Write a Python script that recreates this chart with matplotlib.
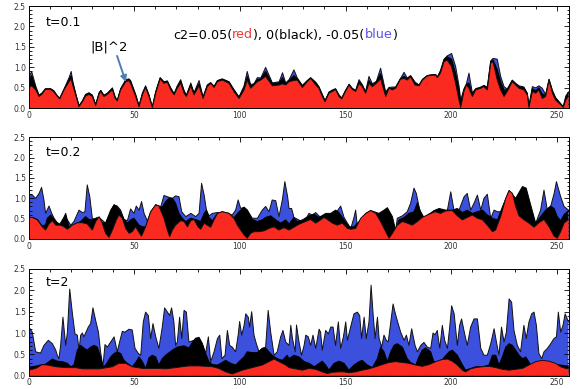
import matplotlib
matplotlib.use("Agg")
import matplotlib.pyplot as plt
from matplotlib.ticker import MultipleLocator

plt.rcParams['font.family'] = ['DejaVu Sans']

RED = "#fb2a20"
BLUE = "#3b50dc"

# ---------------- Panel 1 (t=0.1): shared x ----------------
p1_x = [0, 1.5, 3.4, 5, 6.5, 8, 10.5, 12, 13.6, 14.8, 16.8, 19.2, 20.2, 21, 22.3, 23.9, 25.5, 27, 28.6, 30.2,
        31.8, 33.4, 34.2, 35.7, 37.3, 39.7, 41, 42, 43.6, 46, 47.5, 48.3, 50.7, 52.3, 53.9, 55.4, 57, 58.6, 60.2, 62.3,
        64.1, 65.7, 67.3, 68.9, 70.4, 72, 73.6, 74.7, 76.8, 78.3, 80.7, 82.6, 84.6, 86.2, 87.8, 89.4, 91.7, 94.9, 97.2, 99.6,
        102, 103.5, 105.1, 106.7, 108.3, 109.9, 112.2, 115.4, 118.6, 120.2, 121.7, 123.3, 125.6, 127.2, 129.6, 131.9, 133.5, 135.9, 137.4, 139,
        140.3, 142.2, 143.8, 145.3, 146.9, 148.2, 150, 151.7, 153.2, 154.8, 156.4, 157.9, 159.5, 161.1, 162.7, 164.6, 166.6, 169, 170.6, 172.2,
        173.7, 176, 177.7, 179.2, 180.8, 182.9, 184.8, 186.4, 188.7, 191, 192.7, 193.4, 194.9, 196.6, 198.1, 200.2, 202.1, 203.7, 204.5, 206,
        207.2, 208.4, 210, 211.6, 214, 215.5, 217.1, 218.7, 219.8, 221.8, 223.4, 225, 226.5, 228.9, 230.5, 232.1, 234.4, 236, 236.8, 238.4,
        240, 241.5, 243.1, 244.7, 246.3, 247.9, 249.4, 252, 253, 254.2, 255.5]
p1_red = [0.50, 0.55, 0.45, 0.29, 0.35, 0.46, 0.46, 0.40, 0.29, 0.23, 0.45, 0.65, 0.72, 0.55, 0.33, 0.04, 0.16, 0.30, 0.34, 0.29,
          0.07, 0.35, 0.41, 0.29, 0.34, 0.45, 0.24, 0.18, 0.45, 0.65, 0.68, 0.61, 0.29, 0.04, 0.33, 0.51, 0.29, 0.02, 0.37, 0.72,
          0.61, 0.64, 0.45, 0.33, 0.49, 0.62, 0.37, 0.29, 0.55, 0.33, 0.55, 0.24, 0.53, 0.61, 0.51, 0.65, 0.69, 0.61, 0.41, 0.24,
          0.45, 0.69, 0.49, 0.57, 0.65, 0.69, 0.78, 0.55, 0.57, 0.60, 0.57, 0.65, 0.68, 0.69, 0.51, 0.65, 0.73, 0.57, 0.49, 0.29,
          0.16, 0.37, 0.41, 0.46, 0.29, 0.23, 0.41, 0.57, 0.46, 0.41, 0.61, 0.53, 0.37, 0.61, 0.53, 0.61, 0.72, 0.29, 0.49, 0.45,
          0.49, 0.71, 0.73, 0.69, 0.77, 0.57, 0.55, 0.69, 0.79, 0.81, 0.81, 0.75, 0.86, 1.14, 1.18, 1.02, 0.61, 0.20, 0.02, 0.41,
          0.57, 0.49, 0.29, 0.45, 0.49, 0.53, 0.45, 1.10, 1.14, 0.69, 0.45, 0.29, 0.41, 0.65, 0.57, 0.49, 0.45, 0.33, 0.02, 0.41,
          0.37, 0.45, 0.24, 0.29, 0.69, 0.37, 0.20, 0.08, 0.02, 0.20, 0.30]
p1_black = [0.60, 0.80, 0.50, 0.31, 0.37, 0.47, 0.47, 0.42, 0.30, 0.24, 0.46, 0.70, 0.80, 0.62, 0.36, 0.06, 0.18, 0.33, 0.37, 0.32,
            0.09, 0.37, 0.43, 0.31, 0.36, 0.48, 0.27, 0.19, 0.47, 0.68, 0.70, 0.66, 0.33, 0.06, 0.36, 0.53, 0.32, 0.03, 0.40, 0.74,
            0.64, 0.66, 0.49, 0.35, 0.52, 0.66, 0.42, 0.31, 0.58, 0.37, 0.60, 0.27, 0.56, 0.62, 0.53, 0.67, 0.71, 0.64, 0.45, 0.27,
            0.50, 0.78, 0.55, 0.59, 0.70, 0.72, 0.90, 0.60, 0.62, 0.75, 0.60, 0.68, 0.80, 0.72, 0.55, 0.67, 0.74, 0.62, 0.52, 0.33,
            0.18, 0.39, 0.43, 0.47, 0.32, 0.25, 0.43, 0.58, 0.48, 0.43, 0.65, 0.57, 0.40, 0.68, 0.57, 0.64, 0.85, 0.35, 0.50, 0.48,
            0.51, 0.72, 0.78, 0.72, 0.79, 0.62, 0.56, 0.70, 0.80, 0.82, 0.82, 0.76, 0.90, 1.18, 1.26, 1.20, 0.85, 0.45, 0.12, 0.45,
            0.58, 0.62, 0.33, 0.47, 0.51, 0.55, 0.50, 1.14, 1.18, 0.95, 0.65, 0.45, 0.45, 0.68, 0.60, 0.53, 0.50, 0.36, 0.05, 0.48,
            0.43, 0.50, 0.35, 0.32, 0.70, 0.42, 0.25, 0.10, 0.04, 0.25, 0.38]
p1_blue = [0.75, 0.90, 0.55, 0.32, 0.38, 0.48, 0.48, 0.43, 0.31, 0.25, 0.47, 0.75, 0.90, 0.65, 0.37, 0.06, 0.18, 0.34, 0.38, 0.32,
           0.09, 0.38, 0.44, 0.32, 0.37, 0.50, 0.28, 0.19, 0.48, 0.70, 0.72, 0.68, 0.34, 0.06, 0.37, 0.55, 0.33, 0.03, 0.41, 0.75,
           0.65, 0.67, 0.50, 0.36, 0.55, 0.70, 0.44, 0.32, 0.62, 0.38, 0.68, 0.28, 0.57, 0.63, 0.54, 0.68, 0.72, 0.65, 0.46, 0.28,
           0.55, 0.90, 0.58, 0.60, 0.75, 0.74, 1.00, 0.62, 0.65, 0.87, 0.62, 0.70, 0.94, 0.74, 0.56, 0.68, 0.75, 0.64, 0.53, 0.34,
           0.19, 0.40, 0.45, 0.48, 0.33, 0.25, 0.44, 0.59, 0.49, 0.44, 0.70, 0.58, 0.41, 0.78, 0.60, 0.66, 0.98, 0.40, 0.51, 0.52,
           0.52, 0.73, 0.88, 0.74, 0.80, 0.64, 0.57, 0.71, 0.80, 0.82, 0.82, 0.76, 0.92, 1.20, 1.28, 1.34, 1.02, 0.55, 0.20, 0.47,
           0.60, 0.86, 0.38, 0.48, 0.52, 0.56, 0.52, 1.16, 1.22, 1.20, 0.78, 0.53, 0.47, 0.69, 0.61, 0.55, 0.52, 0.37, 0.06, 0.53,
           0.50, 0.55, 0.49, 0.34, 0.71, 0.44, 0.26, 0.10, 0.04, 0.30, 0.40]

# ---------------- Panel 2 (t=0.2) ----------------
p2_red_x = [0, 1.8, 4.2, 6.5, 8.1, 9.7, 11.3, 12.9, 15.2, 16.8, 18.4, 20.7, 23.1, 25.5, 27.8, 30.2, 31.8, 33.4, 34.9, 36.5,
            38.1, 39.7, 41.6, 42.8, 44.4, 46, 47.6, 49.1, 50.7, 52.3, 53.5, 55.4, 57.8, 60.2, 61.7, 64.1, 65.7, 66.8, 68.1, 69.6,
            72, 73.6, 75.2, 76.8, 78.3, 80.2, 81.5, 83.1, 84.6, 86.2, 87.8, 89.4, 91.7, 94.9, 97.2, 98.8, 100.4, 102, 103.5, 105.1,
            106.7, 109.1, 111.4, 113.8, 116.1, 118.5, 120.9, 123.3, 125.6, 127.9, 131.1, 133.5, 135.9, 138.2, 139.8, 141.4, 143.8, 146.1, 148.5, 150.9,
            152.5, 154.8, 157.2, 159.6, 161.9, 164.3, 166.6, 169, 170.6, 172.2, 174.5, 176.9, 179.2, 181.6, 184, 186.3, 189.5, 192.3, 195, 197.4,
            200.5, 202.9, 205.3, 207.6, 210, 212.4, 214.8, 217.1, 219.5, 221, 223.4, 225.8, 227.4, 229, 230.5, 232.1, 234.5, 236.8, 239.2, 241.5,
            243.9, 246.3, 248.7, 250.2, 251.8, 253.4, 255.5]
p2_red_y = [0.53, 0.53, 0.47, 0.30, 0.22, 0.37, 0.45, 0.34, 0.34, 0.30, 0.24, 0.34, 0.40, 0.40, 0.37, 0.22, 0.43, 0.55, 0.39, 0.14,
            0.04, 0.22, 0.47, 0.59, 0.51, 0.26, 0.14, 0.18, 0.30, 0.16, 0.07, 0.30, 0.67, 0.84, 0.81, 0.51, 0.22, 0.06, 0.22, 0.34,
            0.45, 0.43, 0.30, 0.45, 0.48, 0.30, 0.24, 0.39, 0.34, 0.29, 0.47, 0.63, 0.67, 0.63, 0.51, 0.34, 0.22, 0.10, 0.02, 0.14,
            0.18, 0.18, 0.20, 0.26, 0.30, 0.22, 0.28, 0.22, 0.29, 0.36, 0.43, 0.48, 0.39, 0.47, 0.53, 0.48, 0.39, 0.34, 0.39, 0.26,
            0.24, 0.26, 0.51, 0.63, 0.70, 0.63, 0.43, 0.18, 0.02, 0.14, 0.34, 0.43, 0.39, 0.34, 0.43, 0.53, 0.61, 0.67, 0.63, 0.69,
            0.70, 0.57, 0.47, 0.53, 0.59, 0.51, 0.47, 0.34, 0.18, 0.22, 0.55, 1.00, 1.19, 1.12, 0.80, 0.57, 0.47, 0.39, 0.29, 0.40,
            0.48, 0.30, 0.07, 0.02, 0.18, 0.39, 0.48]
p2_black_x = [0, 2, 4.2, 6.5, 8.1, 8.9, 10.5, 12.9, 15.2, 17.6, 19.2, 21.5, 24.7, 27, 28.6, 30.2, 32.6, 34.9, 36.5, 38.9,
              40.5, 42, 43.6, 45.2, 46.8, 48.3, 49.9, 52.3, 53.9, 55.4, 57.8, 60.2, 61.7, 63.3, 64.9, 66.5, 68.1, 69.6, 71.2, 72.8,
              74.4, 76.8, 79.1, 81.5, 83.1, 84.2, 85.4, 87, 89.4, 91.7, 94.9, 97.2, 99.6, 102, 103.5, 105.9, 108.3, 110.6, 112.2, 114.6,
              117, 119.3, 121.7, 123.3, 125.6, 127.2, 129.6, 132.7, 135.1, 137.4, 140.7, 143, 145.3, 146.9, 149.3, 151.7, 154, 156.4, 159.6, 161.9,
              165.8, 168.2, 169.8, 172.2, 173.7, 175.3, 177.7, 180, 182.4, 184, 185.5, 187.1, 189.5, 191.9, 194.3, 197.4, 200.5, 202.9, 205.3, 207.6,
              210, 212.4, 214.8, 217.1, 219.5, 221.9, 224.3, 227.4, 230.5, 233.7, 235.5, 237.6, 240, 242.3, 244.7, 247.1, 248.7, 250.2, 251.8, 253.4,
              255.5]
p2_black_y = [0.53, 0.53, 0.48, 0.32, 0.35, 0.51, 0.59, 0.43, 0.35, 0.63, 0.30, 0.35, 0.43, 0.55, 0.48, 0.47, 0.53, 0.40, 0.39, 0.71,
              0.84, 0.78, 0.67, 0.48, 0.39, 0.47, 0.51, 0.34, 0.30, 0.30, 0.67, 0.84, 0.81, 0.78, 0.92, 1.00, 1.00, 0.88, 0.63, 0.51,
              0.43, 0.51, 0.48, 0.43, 0.63, 0.71, 0.53, 0.45, 0.63, 0.67, 0.63, 0.52, 0.67, 0.78, 0.71, 0.48, 0.43, 0.47, 0.53, 0.57,
              0.47, 0.39, 0.47, 0.37, 0.53, 0.43, 0.47, 0.57, 0.61, 0.53, 0.63, 0.63, 0.71, 0.65, 0.47, 0.30, 0.30, 0.43, 0.63, 0.70,
              0.63, 0.71, 0.77, 0.55, 0.22, 0.47, 0.53, 0.63, 0.67, 0.89, 0.67, 0.51, 0.61, 0.70, 0.75, 0.71, 0.71, 0.75, 0.65, 0.71,
              0.63, 0.67, 0.71, 0.59, 0.51, 0.47, 0.80, 1.19, 1.00, 1.29, 1.25, 0.84, 0.39, 0.55, 0.71, 0.81, 0.75, 0.55, 0.45, 0.60,
              0.70]
p2_blue_x = [0, 0.5, 1.8, 3.4, 5, 6.2, 7.3, 8.1, 9.7, 11, 12.1, 14.4, 16.8, 18.4, 20, 21.5, 23.9, 25.5, 26.7, 27.8,
             29, 30.2, 31.8, 33.4, 36.5, 38.9, 40.5, 42, 43.6, 45.2, 46.8, 48.3, 49.9, 51, 52.3, 53.5, 54.7, 56.2, 58, 60.2,
             61.7, 62.5, 64.1, 65.7, 68.1, 69.6, 71.2, 72.5, 74.4, 76.8, 79.1, 80.7, 81.9, 83.1, 84.2, 85.4, 87, 89.4, 93.3, 96.4,
             98, 99.2, 100.4, 102, 103.5, 105.9, 108.3, 110.6, 112.2, 113.8, 115.3, 117, 118.5, 120.1, 121.3, 122.6, 123.3, 124.5, 125.6, 127.9,
             130.2, 132.7, 134.3, 135.9, 138.2, 140.7, 143.8, 145.3, 147.7, 149.3, 150.9, 152.5, 154, 154.8, 155.6, 157.2, 173.7, 174.5, 176.9, 179.2,
             180.8, 182.4, 183.5, 185.1, 187.1, 189.5, 192.8, 195.9, 198.2, 199.8, 201.3, 203.7, 206.1, 207.6, 209.2, 210.8, 212.4, 214, 215.5, 217.1,
             218.7, 220.3, 221.9, 223.4, 225, 237.6, 240, 242.3, 243.9, 245.5, 247.1, 248.7, 249.8, 251.8, 253.4, 255.5]
p2_blue_y = [0.71, 1.10, 1.08, 1.00, 1.12, 1.27, 0.96, 0.63, 0.81, 0.63, 0.51, 0.34, 0.53, 0.47, 0.34, 0.43, 0.71, 0.65, 0.67, 1.33,
             1.04, 0.51, 0.48, 0.53, 0.39, 0.67, 0.84, 0.81, 0.71, 0.48, 0.45, 0.74, 0.63, 0.81, 0.71, 0.92, 0.63, 0.45, 0.60, 0.84,
             0.81, 0.78, 1.07, 1.04, 1.00, 1.06, 1.04, 0.67, 0.55, 0.63, 0.55, 0.63, 1.37, 1.08, 0.71, 0.57, 0.63, 0.65, 0.63, 0.59,
             0.71, 0.96, 0.75, 0.78, 0.71, 0.51, 0.51, 0.71, 0.80, 0.67, 0.96, 0.94, 0.55, 0.96, 1.41, 1.04, 0.75, 0.75, 0.53, 0.47,
             0.39, 0.63, 0.59, 0.65, 0.53, 0.61, 0.57, 0.63, 0.81, 0.53, 0.39, 0.26, 0.53, 0.71, 0.30, 0.30, 0.22, 0.51, 0.57, 0.67,
             0.88, 1.25, 1.12, 0.71, 0.53, 0.61, 0.67, 0.65, 0.71, 1.16, 0.71, 0.71, 1.04, 1.12, 0.71, 0.88, 1.08, 0.71, 1.00, 1.10,
             0.51, 0.71, 0.67, 0.67, 0.50, 0.50, 0.39, 0.71, 1.20, 0.71, 0.81, 1.12, 1.41, 1.04, 0.80, 0.71]

# ---------------- Panel 3 (t=2) ----------------
p3_red_x = [0, 3.4, 6.5, 9, 12.9, 17.6, 22.3, 25.5, 33.4, 39.7, 42.8, 46, 49.1, 53.9, 61.7, 64.9, 69.6, 75.9, 80.7, 87,
            90.1, 93.3, 96.4, 101.2, 105.9, 110.6, 113.8, 116.2, 118.5, 121.7, 123.3, 126.4, 129.6, 132.8, 135.9, 139, 141.4, 143.8, 146.9, 149.3,
            151.6, 154.8, 157.9, 161.1, 164.3, 167.4, 170.6, 173.7, 176.9, 180, 183.2, 186.3, 189.5, 192.7, 195.8, 198.2, 200.5, 202.9, 205.3, 206.8,
            209.2, 211.6, 214.8, 217.9, 221.1, 224.2, 227.4, 230.5, 233.7, 236.8, 240, 243.1, 246.3, 249.4, 251.8, 254.2, 255.5]
p3_red_y = [0.13, 0.17, 0.26, 0.25, 0.21, 0.19, 0.19, 0.16, 0.16, 0.21, 0.29, 0.29, 0.21, 0.17, 0.17, 0.16, 0.19, 0.23, 0.23, 0.21,
            0.17, 0.09, 0.04, 0.13, 0.19, 0.25, 0.33, 0.39, 0.33, 0.25, 0.19, 0.16, 0.13, 0.17, 0.15, 0.09, 0.05, 0.08, 0.09, 0.09,
            0.07, 0.09, 0.13, 0.16, 0.21, 0.26, 0.31, 0.33, 0.31, 0.29, 0.25, 0.22, 0.26, 0.33, 0.38, 0.39, 0.34, 0.25, 0.13, 0.09,
            0.16, 0.19, 0.21, 0.22, 0.19, 0.15, 0.13, 0.15, 0.17, 0.25, 0.33, 0.36, 0.34, 0.29, 0.21, 0.17, 0.16]
p3_black_x = [0, 3, 6.5, 8, 9.7, 11.3, 13.6, 16, 18.4, 20, 21.5, 23.1, 24.7, 26.2, 27.8, 29.4, 31, 32.6, 34.1, 35.2,
              36.5, 38.9, 40.5, 42, 43.6, 45.2, 46.8, 49.1, 50.7, 52.3, 53.9, 55.4, 57, 58.6, 60.2, 61.7, 63.3, 64.9, 66.5, 68.1,
              70.4, 73.6, 75.9, 77.5, 79.1, 80.7, 82.2, 83.8, 85.4, 87, 89.4, 90.9, 93.3, 95.7, 98, 99.6, 102, 103.5, 105.9, 108.3,
              110.6, 112.2, 113.8, 115.3, 117.7, 120.1, 122.4, 123.3, 125.6, 128, 130.4, 132.8, 135.2, 137.5, 139, 140.6, 142.2, 144.6, 146.9, 149.3,
              151.6, 154, 156.4, 157.9, 160.3, 162.7, 165.1, 166.6, 168.2, 169.8, 171.4, 172.9, 174.5, 176.9, 179.2, 180.8, 183.2, 184.7, 186.3, 187.9,
              190.3, 191.8, 193.4, 195.8, 199, 200.5, 202.9, 204.5, 206.8, 209.2, 211.6, 214.8, 217.9, 219.5, 221.1, 222.6, 224.2, 225.8, 227.4, 229,
              230.5, 232.1, 233.7, 235.3, 237.6, 240, 243.1, 246.3, 249.4, 251.8, 254.2, 255.5]
p3_black_y = [0.20, 0.22, 0.26, 0.27, 0.33, 0.39, 0.34, 0.33, 0.29, 0.21, 0.25, 0.60, 0.71, 0.65, 0.60, 0.67, 0.71, 0.67, 0.44, 0.21,
              0.25, 0.44, 0.52, 0.56, 0.52, 0.36, 0.29, 0.21, 0.31, 0.44, 0.33, 0.17, 0.42, 0.48, 0.44, 0.25, 0.40, 0.48, 0.54, 0.60,
              0.67, 0.70, 0.65, 0.78, 0.87, 0.88, 0.75, 0.52, 0.33, 0.26, 0.25, 0.29, 0.36, 0.29, 0.25, 0.33, 0.44, 0.56, 0.54, 0.54,
              0.64, 0.65, 0.56, 0.48, 0.40, 0.36, 0.48, 0.40, 0.48, 0.44, 0.33, 0.29, 0.21, 0.29, 0.34, 0.25, 0.13, 0.29, 0.34, 0.29,
              0.13, 0.25, 0.33, 0.36, 0.25, 0.19, 0.40, 0.67, 0.56, 0.33, 0.56, 0.71, 0.75, 0.67, 0.40, 0.31, 0.25, 0.44, 0.60, 0.65,
              0.56, 0.33, 0.33, 0.38, 0.56, 0.60, 0.48, 0.33, 0.13, 0.17, 0.21, 0.21, 0.25, 0.48, 0.48, 0.25, 0.44, 0.67, 0.75, 0.71,
              0.60, 0.48, 0.40, 0.44, 0.25, 0.30, 0.33, 0.31, 0.26, 0.25, 0.23, 0.23]
p3_blue_x = [0, 0.5, 1.8, 3.4, 5.7, 7.3, 9.4, 11.3, 12.9, 13.6, 14.4, 15.2, 16.3, 17.6, 18.4, 19.5, 20.7, 22, 23.1, 23.9,
             24.7, 25.5, 26.2, 27, 28.3, 29.4, 30.5, 31.8, 33.1, 34.1, 35.2, 36.2, 37.3, 38.9, 40.5, 42, 43.1, 44.4, 45.6, 47.6,
             49.1, 50.4, 52, 53.1, 54.3, 55.4, 56.7, 57.8, 58.9, 60.2, 61.7, 63.3, 64.4, 65.7, 66.8, 67.7, 68.8, 69.6, 70.4, 71.5,
             72.5, 73.6, 74.7, 75.9, 78.3, 79.1, 80.7, 82.2, 83.8, 85.1, 86.2, 87.8, 89.4, 90.5, 91.5, 93, 94.1, 95.2, 96.4, 98,
             99.2, 99.9, 100.9, 102, 102.8, 104, 104.6, 105.6, 106.7, 107.8, 109.1, 110.6, 112.2, 113.4, 114.6, 116.2, 117.7, 119.3, 120.4, 121.7,
             123.3, 124.1, 124.9, 126.2, 126.8, 128, 129.2, 130.4, 131.2, 132.4, 133.5, 134.6, 135.9, 137.5, 138.2, 139, 140.6, 141.9, 143, 144.1,
             145.3, 146.6, 147.7, 149, 150.1, 150.9, 152.4, 154, 155.6, 156.7, 157.6, 158.8, 159.8, 161.1, 162.1, 163.1, 164, 165.1, 165.9, 167.1,
             168.2, 169.3, 170.2, 171.4, 172.5, 173.4, 174.5, 176.1, 177.7, 178.8, 180, 181.3, 182.9, 184, 185.6, 187.1, 188.7, 190.3, 191.4, 192.4,
             193.4, 194.6, 195.8, 196.9, 198.2, 199.3, 200.2, 201.4, 202.9, 204, 204.9, 206.5, 207.6, 209.2, 210.8, 212.4, 214, 215.5, 217.1, 218.7,
             220.3, 221.4, 222.6, 223.8, 225, 226.1, 227.4, 228.6, 229.7, 231.3, 232.8, 234.4, 235.5, 236.8, 238.1, 239.2, 240.3, 241.5, 242.8, 243.9,
             245.5, 247.1, 248.6, 249.8, 250.7, 251.8, 252.9, 253.9, 255.5]
p3_blue_y = [0.71, 1.12, 1.02, 0.56, 0.53, 0.71, 0.83, 0.75, 0.60, 0.48, 0.40, 0.71, 1.37, 0.71, 1.02, 2.03, 1.49, 0.98, 0.95, 0.60,
             0.95, 1.00, 0.91, 1.00, 1.14, 1.22, 1.59, 1.29, 1.02, 0.56, 0.21, 0.73, 0.67, 0.79, 0.91, 0.56, 0.79, 1.04, 1.02, 1.09,
             1.07, 0.64, 0.52, 0.48, 1.26, 1.49, 1.41, 0.87, 1.22, 0.91, 0.64, 1.14, 1.59, 1.49, 1.41, 1.59, 1.26, 0.71, 0.79, 1.37,
             0.87, 1.53, 1.49, 0.79, 0.83, 0.88, 0.90, 0.76, 0.52, 0.91, 0.33, 0.56, 0.87, 0.95, 0.40, 0.48, 1.06, 0.71, 0.67, 0.56,
             0.95, 1.27, 0.95, 1.18, 1.45, 1.37, 1.14, 1.50, 0.95, 0.75, 0.56, 0.64, 0.67, 1.53, 1.02, 0.48, 0.56, 0.91, 1.06, 0.79,
             0.71, 1.18, 0.87, 0.56, 1.19, 0.79, 0.48, 0.71, 0.95, 0.91, 0.71, 0.95, 0.64, 1.09, 1.02, 0.60, 1.06, 0.98, 1.14, 1.14,
             0.71, 1.26, 0.64, 0.91, 1.26, 0.83, 1.14, 1.45, 1.49, 1.41, 0.87, 1.37, 0.87, 1.26, 2.12, 1.41, 0.87, 1.37, 0.87, 0.67,
             0.95, 0.83, 0.79, 1.26, 1.68, 1.49, 1.29, 1.02, 0.83, 0.95, 0.71, 1.10, 0.71, 0.56, 0.71, 0.78, 0.67, 0.64, 1.00, 0.96,
             1.06, 0.64, 1.18, 0.83, 0.64, 1.14, 1.64, 1.45, 0.71, 1.18, 1.33, 0.95, 0.71, 1.14, 1.33, 1.33, 0.64, 0.48, 0.48, 0.75,
             1.10, 0.79, 0.48, 1.14, 0.79, 1.02, 1.80, 1.72, 1.06, 0.71, 0.56, 1.18, 0.87, 1.26, 1.45, 1.49, 1.18, 0.52, 0.40, 0.56,
             0.64, 0.75, 0.87, 0.91, 1.49, 1.02, 1.18, 1.45, 1.26]

panel_labels = ["t=0.1", "t=0.2", "t=2"]
x_ticks = [0, 50, 100, 150, 200, 250]
y_ticks = [0.0, 0.5, 1.0, 1.5, 2.0, 2.5]

fig = plt.figure(figsize=(5.79, 3.89), dpi=100)
left, width = 28.5 / 579, 540 / 579
rects = [
    (left, 1 - 108.3 / 389, width, 102.3 / 389),
    (left, 1 - 239.0 / 389, width, 101.7 / 389),
    (left, 1 - 375.7 / 389, width, 106.7 / 389),
]

series = [
    ((p1_x, p1_blue), (p1_x, p1_black), (p1_x, p1_red)),
    ((p2_blue_x, p2_blue_y), (p2_black_x, p2_black_y), (p2_red_x, p2_red_y)),
    ((p3_blue_x, p3_blue_y), (p3_black_x, p3_black_y), (p3_red_x, p3_red_y)),
]
label_y = [0.84, 0.85, 0.87]

axes = []
for i, r in enumerate(rects):
    ax = fig.add_axes(r)
    axes.append(ax)
    (bx, by), (kx, ky), (rx, ry) = series[i]
    ax.fill_between(bx, 0, by, facecolor=BLUE, edgecolor="none", zorder=1)
    ax.plot(bx, by, color="#111111", lw=0.7, zorder=1.1)
    ax.fill_between(kx, 0, ky, facecolor="black", edgecolor="none", zorder=2)
    ax.plot(kx, ky, color="black", lw=0.7, zorder=2.1)
    ax.fill_between(rx, 0, ry, facecolor=RED, edgecolor="none", zorder=3)
    ax.plot(rx, ry, color="#111111", lw=0.7, zorder=3.1)
    ax.set_xlim(0, 255.5)
    ax.set_ylim(0, 2.5)
    ax.set_xticks(x_ticks)
    ax.set_yticks(y_ticks)
    ax.set_yticklabels([f"{v:.1f}" for v in y_ticks])
    ax.xaxis.set_minor_locator(MultipleLocator(10))
    ax.yaxis.set_minor_locator(MultipleLocator(0.1))
    ax.tick_params(which="both", direction="in", top=True, right=True,
                   labelsize=5.5, labelcolor="#333333", width=0.6, pad=2)
    ax.tick_params(which="major", length=3.5)
    ax.tick_params(which="minor", length=1.8)
    for s in ax.spines.values():
        s.set_linewidth(0.7)
        s.set_zorder(5)
    ax.text(0.031, label_y[i], panel_labels[i], transform=ax.transAxes,
            fontsize=9, ha="left", va="center", color="black", zorder=6)

ax1 = axes[0]
ax1.annotate("", xy=(46.1, 0.64), xytext=(41.9, 1.28),
             arrowprops=dict(arrowstyle="-|>", color="#4f7fae", lw=1.4,
                             mutation_scale=9, shrinkA=0, shrinkB=0), zorder=6)
ax1.text(0.149, 0.604, "|B|^2", transform=ax1.transAxes, fontsize=9.5,
         ha="center", va="center", zorder=6)

pieces = [("c2=0.05(", "black"), ("red", "#f03a30"), ("), 0(black), -0.05(", "black"),
          ("blue", "#5a4ff0"), (")", "black")]
t = ax1.text((173 - 28.5) / 540, (108.3 - 35) / 102.3, pieces[0][0], transform=ax1.transAxes,
             fontsize=9.2, color=pieces[0][1], ha="left", va="center", zorder=6)
for s, c in pieces[1:]:
    t = ax1.annotate(s, xy=(1, 0), xycoords=t, xytext=(0, 0), textcoords="offset points",
                     fontsize=9.2, color=c, ha="left", va="bottom", zorder=6)

fig.savefig("out.png", dpi=100)
